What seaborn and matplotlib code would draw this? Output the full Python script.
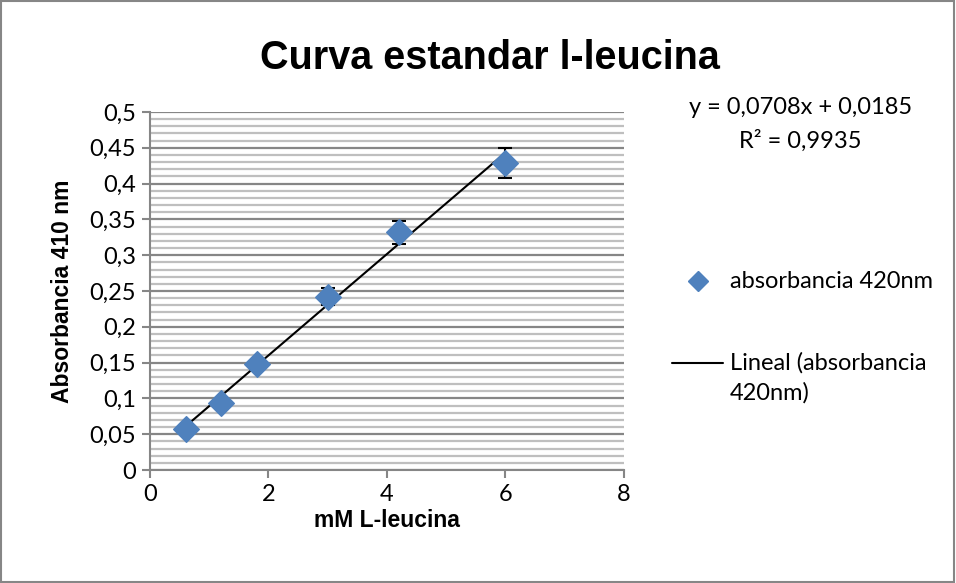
import numpy as np
import pandas as pd
import matplotlib
matplotlib.use("Agg")
import matplotlib.pyplot as plt
import seaborn as sns
from matplotlib.lines import Line2D
from matplotlib.patches import Rectangle

# Data
conc_mM = [0.6, 1.2, 1.8, 3.0, 4.2, 6.0]
absorbance = [0.057, 0.094, 0.148, 0.242, 0.332, 0.429]
abs_err = [0.004, 0.005, 0.005, 0.012, 0.016, 0.021]
slope = 0.0708
intercept = 0.0185
r2 = 0.9935
x_ticks = [0, 2, 4, 6, 8]
y_ticks = [0, 0.05, 0.1, 0.15, 0.2, 0.25, 0.3, 0.35, 0.4, 0.45, 0.5]

df = pd.DataFrame({"mM": conc_mM, "abs": absorbance, "err": abs_err})
fit_x = [min(conc_mM), max(conc_mM)]
fit_df = pd.DataFrame({"mM": fit_x, "abs": [slope * v + intercept for v in fit_x]})

sns.set_style("white")
plt.rcParams['font.family'] = ['Lato', 'DejaVu Sans']
plt.rcParams['text.color'] = 'black'
plt.rcParams['axes.labelcolor'] = 'black'
plt.rcParams['xtick.color'] = 'black'
plt.rcParams['ytick.color'] = 'black'

W, H = 956, 583
fig = plt.figure(figsize=(9.56, 5.83), dpi=100)
ax = fig.add_axes([0.1569, 0.1938, 0.6527 - 0.1569, 0.8079 - 0.1938])

ax.set_ylim(0, 0.5)
ax.set_xlim(0, 8)
ax.set_yticks(y_ticks)
ax.set_yticks(np.arange(0, 0.5001, 0.01), minor=True)
ax.yaxis.grid(True, which='minor', color='#BFBFBF', linewidth=1.6, zorder=0)
ax.yaxis.grid(True, which='major', color='#868686', linewidth=1.6, zorder=0)
ax.xaxis.grid(False)
ax.set_axisbelow(True)

ax.errorbar(df["mM"], df["abs"], yerr=df["err"], fmt='none', ecolor='black',
            elinewidth=1.5, capsize=5, capthick=1.5, zorder=2)
sns.lineplot(data=fit_df, x="mM", y="abs", ax=ax, color='black', linewidth=1.5, zorder=3)
sns.scatterplot(data=df, x="mM", y="abs", ax=ax, marker='D', s=170, color='#4F81BD',
                edgecolor='#4F81BD', zorder=4)

ax.set_xticks(x_ticks)
ax.set_xticklabels([str(v) for v in x_ticks], fontsize=17)
ax.set_yticklabels([("%g" % v).replace('.', ',') for v in y_ticks], fontsize=17)
ax.tick_params(axis='both', which='major', direction='out', length=6, width=1.5,
               color='#868686', bottom=True, left=True, pad=4)
ax.tick_params(axis='y', which='minor', left=False)

for s in ['top', 'right']:
    ax.spines[s].set_visible(False)
for s in ['left', 'bottom']:
    ax.spines[s].set_color('#868686')
    ax.spines[s].set_linewidth(1.5)

ax.set_xlabel("mM L-leucina", fontsize=16.5, fontweight='bold', family='Liberation Sans', labelpad=3)
ax.set_ylabel("Absorbancia 410 nm", fontsize=16.5, fontweight='bold', family='Liberation Sans', labelpad=11)

fig.text(0.513, 0.9, "Curva estandar l-leucina", ha='center', va='center',
         fontsize=28.5, fontweight='bold', family='Liberation Sans')

fig.text(0.837, 0.815, "y = 0,0708x + 0,0185", ha='center', va='center', fontsize=17)
fig.text(0.837, 0.758, "R² = 0,9935", ha='center', va='center', fontsize=17)

# legend (drawn manually to mimic spreadsheet layout)
def fx(px):
    return px / W

def fy(py):
    return 1 - py / H

fig.add_artist(Line2D([fx(698)], [fy(281)], marker='D', linestyle='none',
                      color='#4F81BD', markersize=10, transform=fig.transFigure))
fig.text(fx(730), fy(281), "absorbancia 420nm", ha='left', va='center', fontsize=17)
fig.add_artist(Line2D([fx(672), fx(723)], [fy(363), fy(363)], color='black',
                      linewidth=1.5, transform=fig.transFigure))
fig.text(fx(730), fy(363), "Lineal (absorbancia", ha='left', va='center', fontsize=17)
fig.text(fx(730), fy(393), "420nm)", ha='left', va='center', fontsize=17)

fig.patches.append(Rectangle((0.001, 0.001), 0.997, 0.997, transform=fig.transFigure,
                             fill=False, edgecolor='#868686', linewidth=1.5))

fig.savefig("out.png", dpi=100)
